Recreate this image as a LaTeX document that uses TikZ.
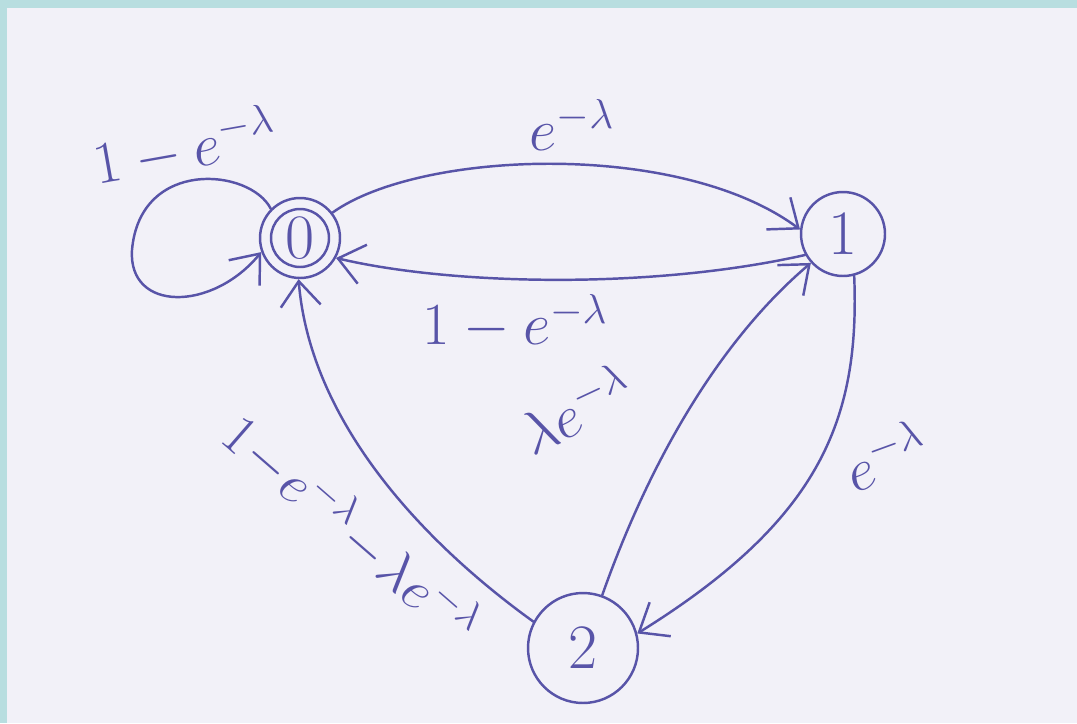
\RequirePackage{fix-cm}
\documentclass[tikz,border=0pt]{standalone}
\usetikzlibrary{arrows.meta}
\definecolor{ink}{RGB}{88,84,168}
\definecolor{paper}{RGB}{242,241,248}
\definecolor{frame}{RGB}{184,222,224}
\begin{document}
\begin{tikzpicture}[x=0.02cm,y=-0.02cm,
  ink line/.style={draw=ink,line width=1.4pt,line cap=round},
  arr/.style={ink line,-{Straight Barb[length=5mm,width=8mm,line width=1.4pt]}},
  state/.style={circle,ink line,text=ink,inner sep=0pt,font=\fontsize{36}{40}\selectfont},
  lab/.style={text=ink,inner sep=1pt,font=\fontsize{34}{40}\selectfont}]
\useasboundingbox (0,0) rectangle (1077,723);
\fill[paper] (0,0) rectangle (1077,723);
\fill[frame] (0,0) rectangle (1077,8);
\fill[frame] (0,0) rectangle (7,723);

\node[state,minimum size=1.6cm] (n0) at (300,238) {$0$};
\draw[ink line] (n0.center) circle[radius=0.58cm];
\node[state,minimum size=1.68cm] (n1) at (843,234) {$1$};
\node[state,minimum size=2.2cm] (n2) at (583,648) {$2$};

% 0 -> 1 (top)
\draw[arr] (n0.38) .. controls (420,150) and (680,140) .. (n1.174);
% 1 -> 0 (below)
\draw[arr] (n1.209) .. controls (650,290) and (450,285) .. (n0.331);
% loop at 0
\draw[arr] (n0.135) .. controls (250,168) and (140,158) .. (132,250)
  .. controls (128,312) and (212,312) .. (n0.200);
% 2 -> 1
\draw[arr] (n2.70) .. controls (650,460) and (720,340) .. (n1.222);
% 1 -> 2
\draw[arr] (n1.285) .. controls (860,420) and (820,520) .. (n2.15);
% 2 -> 0
\draw[arr] (n2.152) .. controls (420,540) and (310,420) .. (n0.268);

\node[lab,rotate=10] (l00) at (185,146) {$1-e^{-\lambda}$};
\node[lab] (l01) at (572,125) {$e^{-\lambda}$};
\node[lab] (l10) at (515,322) {$1-e^{-\lambda}$};
\node[lab,rotate=25] (l21) at (575,408) {$\lambda e^{-\lambda}$};
\node[lab,rotate=20] (l12) at (885,455) {$e^{-\lambda}$};
\node[lab,rotate=-41,font=\fontsize{32}{38}\selectfont] (l20) at (352,528)
  {$\medmuskip=1mu 1-e^{-\lambda}-\lambda e^{-\lambda}$};
\end{tikzpicture}
\end{document}
